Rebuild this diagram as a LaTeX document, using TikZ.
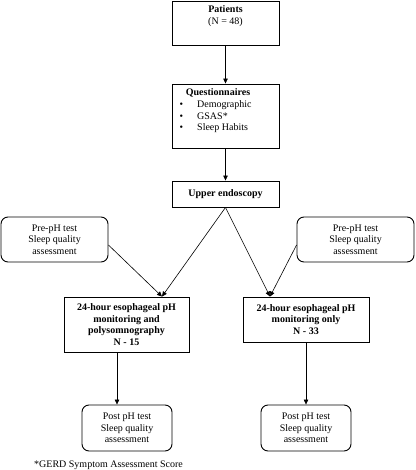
\documentclass[tikz,border=0pt]{standalone}
\usepackage{fontspec}
\setmainfont{Liberation Serif}
\usetikzlibrary{arrows.meta}
\begin{document}
\begin{tikzpicture}[x=1pt,y=1pt,
  font=\fontsize{10}{11.5}\selectfont,
  box/.style={draw, line width=0.9pt, inner sep=0pt, align=center},
  rbox/.style={box, rounded corners=7pt},
  txt/.style={inner sep=0pt, align=center},
  arr/.style={line width=0.6pt, -{Triangle[length=5pt,width=4.5pt]}},
  ln/.style={line width=0.6pt}]
\useasboundingbox (0,0) rectangle (415,470);
% boxes
\node[box, minimum width=107pt, minimum height=44pt] (pat) at (225.5,447) {};
\node[txt, anchor=north] (pattext) at (225.5,465) {\textbf{Patients}\\[1pt](N = 48)};
\node[box, minimum width=107pt, minimum height=64pt] (que) at (225.5,354) {};
\node[txt] (qtitle) at (218,377) {\textbf{Questionnaires}};
\node[txt, anchor=north west, align=left] (qlist) at (179.5,370.5) {%
  \begin{tabular}{@{}l@{\hspace{14pt}}l@{}}
  \textbullet & Demographic\\
  \textbullet & GSAS*\\
  \textbullet & Sleep Habits
  \end{tabular}};
\node[box, minimum width=107pt, minimum height=26pt] (endo) at (225.5,276) {\textbf{Upper endoscopy}};
\node[rbox, minimum width=107pt, minimum height=45pt] (prel) at (54.5,230.5) {Pre-pH test\\Sleep quality\\assessment};
\node[rbox, minimum width=117pt, minimum height=45pt] (prer) at (355.5,230.5) {Pre-pH test\\Sleep quality\\assessment};
\node[box, minimum width=125pt, minimum height=55pt] (mainl) at (126.5,145.5) {\textbf{24-hour esophageal pH}\\\textbf{monitoring and}\\\textbf{polysomnography}\\\textbf{N - 15}};
\node[box, minimum width=126pt, minimum height=45pt] (mainr) at (306,150.5) {\textbf{24-hour esophageal pH}\\\textbf{monitoring only}\\\textbf{N - 33}};
\node[rbox, minimum width=90pt, minimum height=46pt] (postl) at (127,42) {Post pH test\\Sleep quality\\assessment};
\node[rbox, minimum width=90pt, minimum height=46pt] (postr) at (306,42) {Post pH test\\Sleep quality\\assessment};
\node[txt, anchor=west] (foot) at (34,5) {*GERD Symptom Assessment Score};
% connectors
\coordinate (tipl) at ([xshift=35.5pt]mainl.north);
\coordinate (tipr) at ([xshift=-36pt]mainr.north);
\draw[arr] (pat.south) -- (que.north);
\draw[arr] (que.south) -- (endo.north);
\draw[arr] (endo.south) -- (tipl);
\draw[arr] ([yshift=-5.5pt]prel.east) -- (tipl);
\draw[arr] (endo.south) -- (tipr);
\draw[arr] ([yshift=-5.5pt]prer.west) -- (tipr);
\coordinate (dl) at ([xshift=-9.5pt]mainl.south);
\draw[arr] (dl) -- (dl |- postl.north);
\draw[arr] (mainr.south) -- (postr.north);
\end{tikzpicture}
\end{document}
